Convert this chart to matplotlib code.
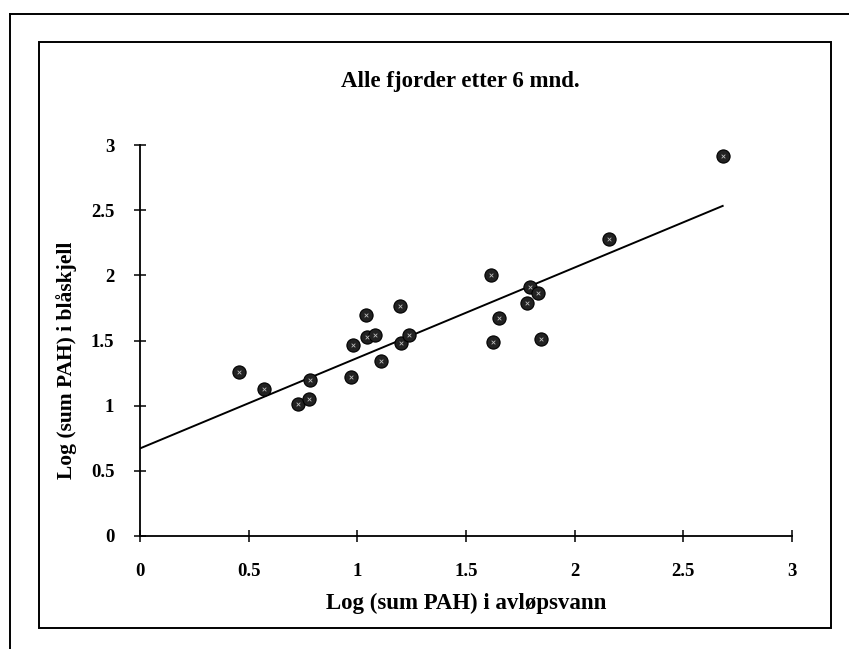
import matplotlib
matplotlib.use("Agg")
import matplotlib.pyplot as plt
from matplotlib.lines import Line2D
from matplotlib.patches import Rectangle
import numpy as np

# Data
x_wastewater = [0.456, 0.570, 0.727, 0.777, 0.784, 0.971, 0.978, 1.041, 1.043, 1.083,
                1.108, 1.197, 1.200, 1.237, 1.613, 1.623, 1.650, 1.780, 1.795, 1.830,
                1.847, 2.158, 2.681]
y_mussel = [1.257, 1.127, 1.016, 1.048, 1.194, 1.222, 1.467, 1.695, 1.530, 1.543,
            1.346, 1.768, 1.479, 1.543, 2.003, 1.486, 1.670, 1.787, 1.914, 1.863,
            1.514, 2.279, 2.914]
fit_intercept = 0.672
fit_slope = 0.694
x_ticks = [0, 0.5, 1, 1.5, 2, 2.5, 3]
x_tick_labels = ["0", "0.5", "1", "1.5", "2", "2.5", "3"]
y_ticks = [0, 0.5, 1, 1.5, 2, 2.5, 3]
y_tick_labels = ["0", "0.5", "1", "1.5", "2", "2.5", "3"]
title = "Alle fjorder etter 6 mnd."
xlabel = "Log (sum PAH) i avløpsvann"
ylabel = "Log (sum PAH) i blåskjell"

W, H = 849, 649
fig = plt.figure(figsize=(W / 100, H / 100), dpi=100)
fig.patch.set_facecolor("white")

font = "Liberation Serif"

# axes placement (pixels)
x0_px, x3_px = 140, 792
y0_px, y3_px = 536, 145
ax = fig.add_axes([x0_px / W, 1 - y0_px / H, (x3_px - x0_px) / W, (y0_px - y3_px) / H])
ax.set_xlim(0, 3)
ax.set_ylim(0, 3)
ax.patch.set_alpha(0)
for s in ["top", "right"]:
    ax.spines[s].set_visible(False)
for s in ["left", "bottom"]:
    ax.spines[s].set_linewidth(1.3)
    ax.spines[s].set_color("black")

ax.set_xticks(x_ticks)
ax.set_xticklabels(x_tick_labels)
ax.set_yticks(y_ticks)
ax.set_yticklabels(y_tick_labels)
ax.tick_params(axis="both", direction="inout", length=9, width=1.1, colors="black",
               labelsize=13.5)
ax.tick_params(axis="x", pad=15)
ax.tick_params(axis="y", pad=14)
for lab in ax.get_xticklabels() + ax.get_yticklabels():
    lab.set_fontfamily(font)
    lab.set_fontweight("bold")

# regression line
xl = np.array([0, max(x_wastewater)])
ax.plot(xl, fit_intercept + fit_slope * xl, color="black", lw=1.4, zorder=2)

# markers
ax.scatter(x_wastewater, y_mussel, s=90, color="#222222", edgecolors="black",
           linewidths=0.8, zorder=3, clip_on=False)
ax.scatter(x_wastewater, y_mussel, s=7, marker="x", color="#bbbbbb", linewidths=0.6,
           zorder=4, clip_on=False)

# labels
fig.text(460 / W, 1 - 81 / H, title, ha="center", va="center", fontsize=16.5,
         fontfamily=font, fontweight="bold")
fig.text(466 / W, 1 - 603 / H, xlabel, ha="center", va="center", fontsize=16.5,
         fontfamily=font, fontweight="bold")
fig.text(67 / W, 1 - 360 / H, ylabel, ha="center", va="center", fontsize=15.5,
         fontfamily=font, fontweight="bold", rotation=90)

# inner box
fig.add_artist(Rectangle((39 / W, 1 - 628 / H), (831 - 39) / W, (628 - 42) / H,
                         transform=fig.transFigure, fill=False, edgecolor="black", lw=1.4))
# outer page frame (top and left)
fig.add_artist(Line2D([10 / W, 1.0], [1 - 14 / H, 1 - 14 / H], transform=fig.transFigure,
                      color="black", lw=1.4))
fig.add_artist(Line2D([10 / W, 10 / W], [1 - 14 / H, 0.0], transform=fig.transFigure,
                      color="black", lw=1.4))

fig.savefig("out.png", dpi=100)
